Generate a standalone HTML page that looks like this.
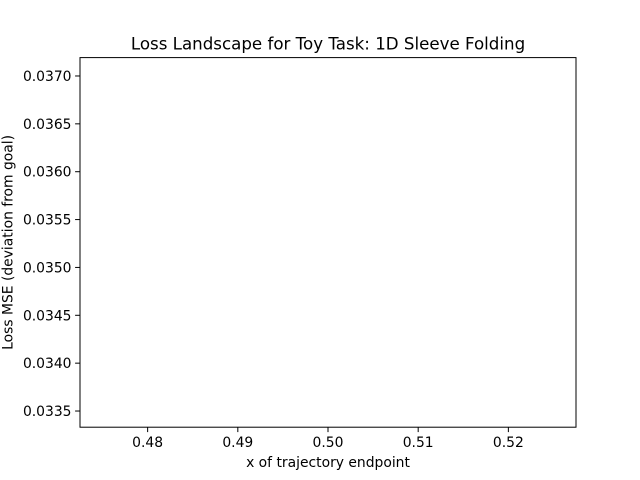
<!DOCTYPE html>
<html><head><meta charset="utf-8"><style>
html,body{margin:0;padding:0;background:#fff;}
svg{display:block;font-family:"DejaVu Sans","Liberation Sans",sans-serif;}
</style></head><body>
<svg id="chart" width="640" height="480">
<rect x="0" y="0" width="640" height="480" fill="#fff"/>
<text x="328" y="49.5" text-anchor="middle" font-size="16.67" fill="#000">Loss Landscape for Toy Task: 1D Sleeve Folding</text>
<g id="xticks"></g>
<g id="yticks"></g>
<rect x="80" y="57.6" width="496" height="369.6" fill="none" stroke="#000" stroke-width="1"/>
<text x="328" y="467" text-anchor="middle" font-size="13.89" fill="#000">x of trajectory endpoint</text>
<text transform="translate(12.5,242.4) rotate(-90)" text-anchor="middle" font-size="13.89" fill="#000">Loss MSE (deviation from goal)</text>
</svg>
<script>
const xTickValues = [0.48, 0.49, 0.50, 0.51, 0.52];
const xTickLabels = ["0.48", "0.49", "0.50", "0.51", "0.52"];
const yTickValues = [0.0335, 0.0340, 0.0345, 0.0350, 0.0355, 0.0360, 0.0365, 0.0370];
const yTickLabels = ["0.0335", "0.0340", "0.0345", "0.0350", "0.0355", "0.0360", "0.0365", "0.0370"];
const xDomain = [0.4725, 0.5275];
const yDomain = [0.033331, 0.037192];
const NS = "http://www.w3.org/2000/svg";
const L = 80, R = 576, T = 57.6, B = 427.2;
const xs = v => L + (v - xDomain[0]) / (xDomain[1] - xDomain[0]) * (R - L);
const ys = v => B - (v - yDomain[0]) / (yDomain[1] - yDomain[0]) * (B - T);
const gx = document.getElementById('xticks');
xTickValues.forEach((v, i) => {
  const x = xs(v);
  const t = document.createElementNS(NS, 'line');
  t.setAttribute('x1', x); t.setAttribute('x2', x);
  t.setAttribute('y1', B); t.setAttribute('y2', B + 4.9);
  t.setAttribute('stroke', '#000');
  
  
  gx.appendChild(t);
  const l = document.createElementNS(NS, 'text');
  l.setAttribute('x', x); l.setAttribute('y', B + 20);
  l.setAttribute('text-anchor', 'middle'); l.setAttribute('font-size', '13.89');
  l.textContent = xTickLabels[i];
  
  
  gx.appendChild(l);
});
const gy = document.getElementById('yticks');
yTickValues.forEach((v, i) => {
  const y = ys(v);
  const t = document.createElementNS(NS, 'line');
  t.setAttribute('x1', L - 4.9); t.setAttribute('x2', L);
  t.setAttribute('y1', y); t.setAttribute('y2', y);
  t.setAttribute('stroke', '#000');
  
  
  gy.appendChild(t);
  const l = document.createElementNS(NS, 'text');
  l.setAttribute('x', L - 8.5); l.setAttribute('y', y + 5);
  l.setAttribute('text-anchor', 'end'); l.setAttribute('font-size', '13.89');
  l.textContent = yTickLabels[i];
  
  
  gy.appendChild(l);
});
</script>
</body></html>
